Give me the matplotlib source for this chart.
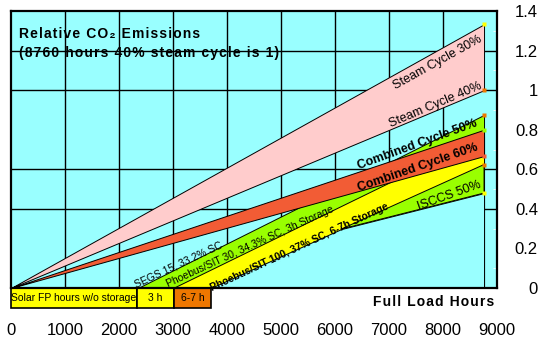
import numpy as np
import matplotlib
matplotlib.use('Agg')
import matplotlib.pyplot as plt

plt.rcParams['font.family'] = ['Liberation Sans', 'DejaVu Sans']

# ---------------- data ----------------
HOURS_END = 8760
# relative CO2 reached at 8760 full load hours
steam30_end = 1.333
steam40_end = 1.0
cc50_end = 0.80
cc60_end = 0.667
# solar plants: hour where fossil backup starts, and value at 8760 h
segs_start, segs_end = 2350, 0.875
ph30_start, ph30_end = 3000, 0.767
ph100_start, ph100_end = 3700, 0.624
isccs_start, isccs_end = 1800, 0.48

# solar hours bar under the axis
storage_edges = [0, 2330, 3020, 3700]
storage_labels = ['Solar FP hours w/o storage', '3 h', '6-7 h']
storage_colors = ['#FFFF00', '#FFFF00', '#EE7700']

xticks = [0, 1000, 2000, 3000, 4000, 5000, 6000, 7000, 8000, 9000]
yticks = [0, 0.2, 0.4, 0.6, 0.8, 1.0, 1.2, 1.4]
ytick_labels = ['0', '0.2', '0.4', '0.6', '0.8', '1', '1.2', '1.4']
grid_x = [1000, 2000, 3000, 4000, 5000, 6000, 7000, 8000]
grid_y = [0.4, 0.6, 1.0, 1.2]

CYAN = '#99FFFF'
PINK = '#FFCCCC'
RED = '#F25C35'
GREEN = '#99FF00'
YELLOW = '#FFFF00'
ORANGE = '#EE7700'


def ramp(h, start, end):
    # straight line from (start, 0) to (8760, end)
    return end * np.clip(h - start, 0, None) / (HOURS_END - start)


def spaced(s):
    # excel-ish letter spacing with hair spaces
    return '\u200a'.join(s)


h = np.linspace(0, HOURS_END, 3000)
s30 = ramp(h, 0, steam30_end)
s40 = ramp(h, 0, steam40_end)
c50 = ramp(h, 0, cc50_end)
c60 = ramp(h, 0, cc60_end)
segs = ramp(h, segs_start, segs_end)
ph30 = ramp(h, ph30_start, ph30_end)
ph100 = ramp(h, ph100_start, ph100_end)
isccs = ramp(h, isccs_start, isccs_end)

fig = plt.figure(figsize=(5.52, 3.42), dpi=100)
ax = fig.add_axes([11/552, 1-288/342, 486/552, 277/342])
ax.set_facecolor(CYAN)
ax.set_xlim(0, 9000)
ax.set_ylim(0, 1.4)

# grid behind everything
for gx in grid_x:
    ax.axvline(gx, color='black', lw=1, zorder=0.5)
for gy in grid_y:
    ax.axhline(gy, color='black', lw=1, zorder=0.5)

ekw = dict(edgecolor='black', linewidth=0.7)
ax.fill_between(h, s40, s30, facecolor=PINK, zorder=1, **ekw)
ax.fill_between(h, 0, segs, where=h >= segs_start, facecolor=GREEN, zorder=2, **ekw)
ax.fill_between(h, 0, ph30, where=h >= ph30_start, facecolor=YELLOW, zorder=3, **ekw)
ax.fill_between(h, isccs, ph100, where=ph100 >= isccs, interpolate=True,
                facecolor=GREEN, zorder=4, **ekw)
ax.fill_between(h, 0, np.minimum(ph100, isccs), facecolor=CYAN, zorder=5, **ekw)
ax.fill_between(h, c60, c50, facecolor=RED, zorder=6, **ekw)

# little end markers at 8760 h
end_vals = [steam30_end, steam40_end, segs_end, cc50_end, cc60_end, ph100_end, isccs_end]
end_cols = [YELLOW, ORANGE, ORANGE, GREEN, RED, ORANGE, YELLOW]
for v, c in zip(end_vals, end_cols):
    ax.plot([HOURS_END], [v], marker='s', ms=2.2, mec='none', mfc=c, zorder=7)

# labels along the lines
tkw = dict(ha='center', va='center', rotation_mode='anchor', zorder=10)
ax.text(7907, 1.141, 'Steam Cycle 30%', rotation=29, fontsize=9, **tkw)
ax.text(7870, 0.924, 'Steam Cycle 40%', rotation=23, fontsize=9, **tkw)
ax.text(7519, 0.722, 'Combined Cycle 50%', rotation=20, fontsize=9, weight='bold', **tkw)
ax.text(7537, 0.606, 'Combined Cycle 60%', rotation=19, fontsize=9, weight='bold', **tkw)
ax.text(8111, 0.465, 'ISCCS 50%', rotation=20, fontsize=9, **tkw)
ax.text(3093, 0.116, 'SEGS 15, 33.2% SC', rotation=25, fontsize=7.5, **tkw)
ax.text(4426, 0.207, 'Phoebus/SIT 30, 34.3% SC, 3h Storage', rotation=24.5, fontsize=7.5, **tkw)
ax.text(5333, 0.207, 'Phoebus/SIT 100, 37% SC, 6-7h Storage', rotation=25, fontsize=7.5,
        weight='bold', **tkw)

# solar hours boxes below the axis
for i in range(len(storage_labels)):
    x0, x1 = storage_edges[i], storage_edges[i+1]
    ax.bar(x0, -0.101, width=x1-x0, bottom=0, align='edge', color=storage_colors[i],
           edgecolor='black', linewidth=1.2, clip_on=False, zorder=8)
    ax.text((x0+x1)/2, -0.05, storage_labels[i], ha='center', va='center',
            fontsize=7.5, clip_on=False, zorder=9)

ax.text(8950, -0.07, spaced('Full Load Hours'), ha='right', va='center', fontsize=10,
        weight='bold')

# axes, ticks
for sp in ax.spines.values():
    sp.set_linewidth(1.6)
    sp.set_zorder(11)
ax.yaxis.tick_right()
ax.set_yticks(yticks)
ax.set_yticklabels(ytick_labels)
ax.set_xticks(xticks)
ax.tick_params(axis='both', which='major', length=0, labelsize=12)
ax.tick_params(axis='y', which='major', pad=29.5)
for lab in ax.get_yticklabels():
    lab.set_horizontalalignment('right')
ax.tick_params(axis='x', which='major', pad=25)
ax.set_yticks([0.1, 0.3, 0.5, 0.7, 0.9, 1.1, 1.3], minor=True)
ax.tick_params(axis='y', which='minor', direction='in', color='white', length=3,
               right=True, left=False)

fig.text(19/552, 1-37.7/342, spaced('Relative CO\u2082 Emissions'), fontsize=10,
         weight='bold', va='baseline')
fig.text(19/552, 1-56.5/342, spaced('(8760 hours 40% steam cycle is 1)'), fontsize=10,
         weight='bold', va='baseline')

fig.savefig('out.png', dpi=100, facecolor='white')
